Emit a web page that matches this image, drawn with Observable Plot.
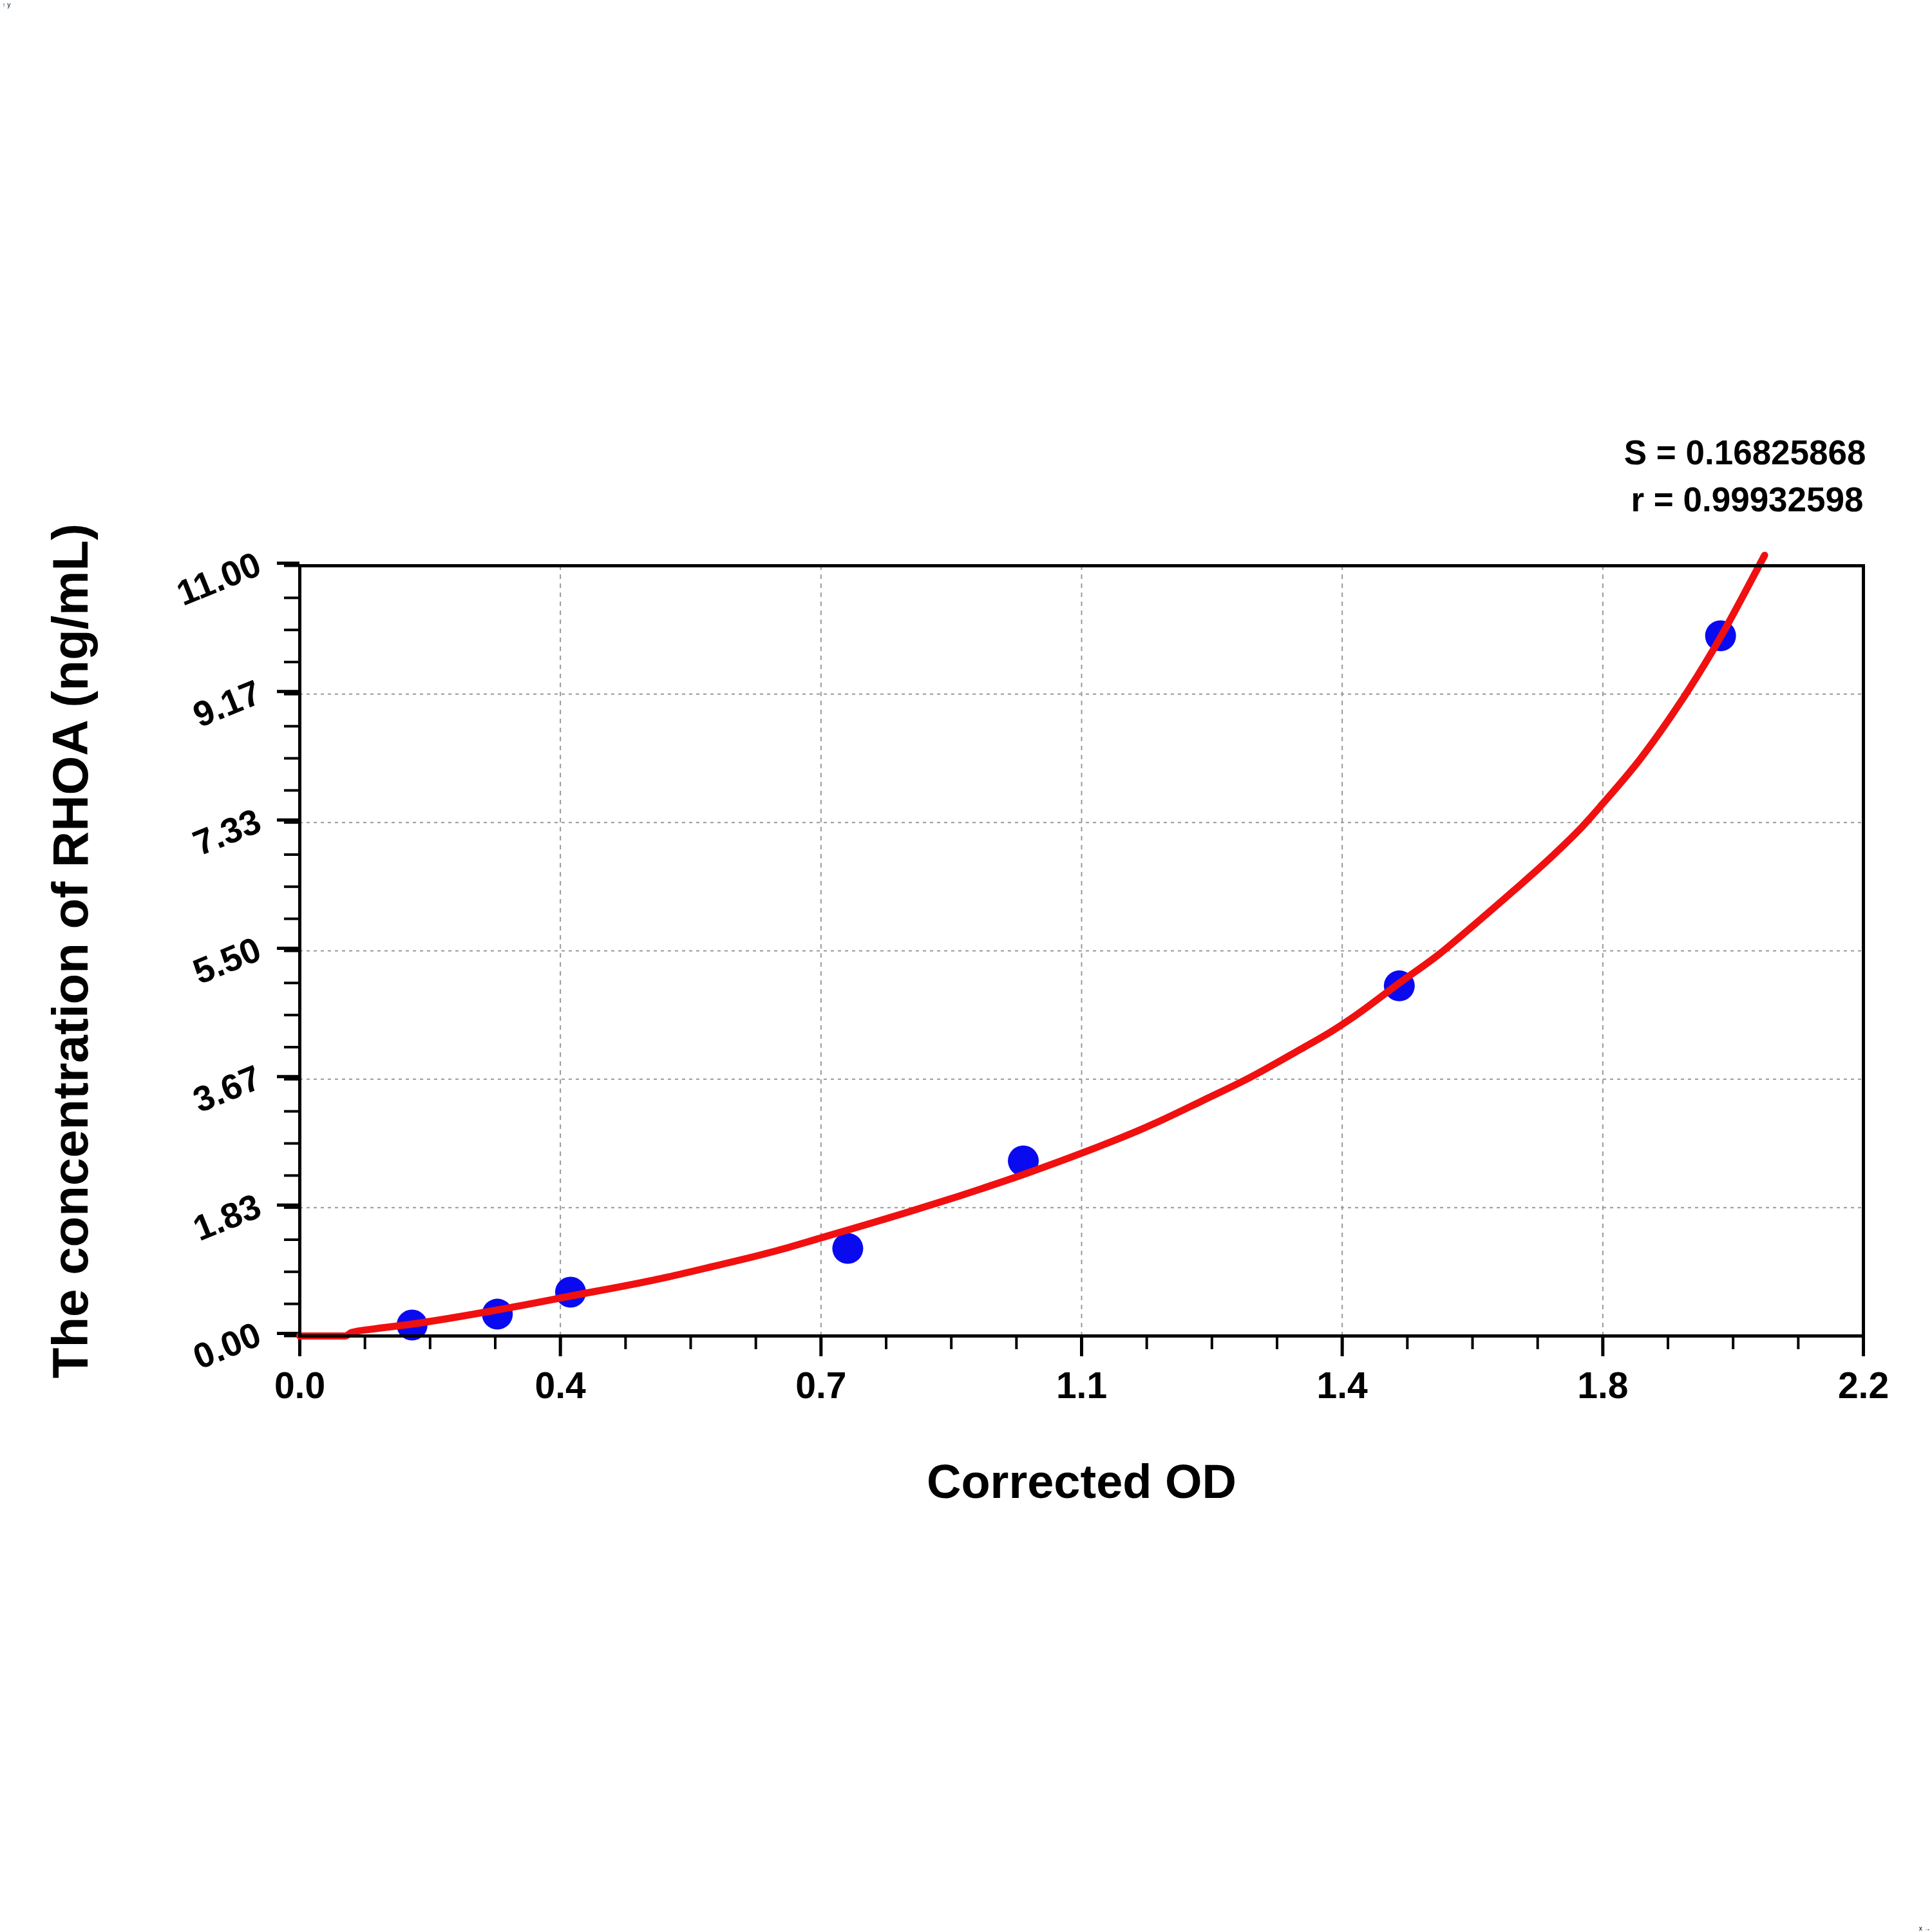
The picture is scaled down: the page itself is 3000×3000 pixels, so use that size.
<!DOCTYPE html>
<html>
<head>
<meta charset="utf-8">
<script src="https://cdn.jsdelivr.net/npm/d3@7"></script>
<script src="https://cdn.jsdelivr.net/npm/@observablehq/plot@0.6"></script>
<style>
  html, body { margin: 0; padding: 0; background: #fff; }
  #chart { width: 3000px; height: 3000px; }
</style>
</head>
<body>
<div id="chart"></div>
<script>
// Standard points (Corrected OD vs concentration)
const pointOD = [0.158, 0.278, 0.381, 0.771, 1.018, 1.547, 1.999];
const pointConc = [0.156, 0.312, 0.625, 1.25, 2.5, 5, 10];

// Fitted curve
const curveOD = [0, 0.064, 0.073, 0.104, 0.158, 0.277, 0.381, 0.517, 0.58, 0.668, 0.733, 0.856, 0.925, 1.022, 1.1, 1.2015, 1.27, 1.333, 1.409, 1.45, 1.483, 1.547, 1.604, 1.644, 1.708, 1.765, 1.805, 1.833, 1.886, 1.926, 1.966, 1.999, 2.027, 2.061];
const curveConc = [0, 0.0, 0.05, 0.10, 0.17, 0.37, 0.57, 0.84, 0.99, 1.21, 1.40, 1.77, 1.99, 2.32, 2.61, 3.03, 3.36, 3.67, 4.10, 4.34, 4.56, 5.04, 5.46, 5.80, 6.36, 6.88, 7.28, 7.60, 8.24, 8.80, 9.42, 9.98, 10.50, 11.15];

// Axis ticks
const xMajor = [0, 0.366667, 0.733333, 1.1, 1.466667, 1.833333, 2.2];
const xLabels = ["0.0", "0.4", "0.7", "1.1", "1.4", "1.8", "2.2"];
const yMajor = [0, 1.833333, 3.666667, 5.5, 7.333333, 9.166667, 11];
const yLabels = ["0.00", "1.83", "3.67", "5.50", "7.33", "9.17", "11.00"];
const xMinorCount = 24;
const yMinorCount = 24;

const statLines = ["S = 0.16825868", "r = 0.99932598"];
const xTitle = "Corrected OD";
const yTitle = "The concentration of RHOA (ng/mL)";

const points = pointOD.map((x, i) => ({x, y: pointConc[i]}));
const curve = curveOD.map((x, i) => ({x, y: curveConc[i]}));
const xMinor = d3.range(xMinorCount + 1).map(i => i * 2.2 / xMinorCount);
const yMinor = d3.range(yMinorCount + 1).map(i => i * 11 / yMinorCount);

const font = "'Liberation Sans', Arial, sans-serif";

const chart = Plot.plot({
  width: 3000,
  height: 3000,
  marginLeft: 465,
  marginRight: 107,
  marginTop: 878,
  marginBottom: 926,
  style: {fontFamily: font, background: "#fff", color: "#000"},
  x: {domain: [0, 2.2]},
  y: {domain: [0, 11]},
  marks: [
    Plot.gridX(xMajor.slice(1, -1), {stroke: "#999", strokeOpacity: 1, strokeWidth: 2, strokeDasharray: "7,7"}),
    Plot.gridY(yMajor.slice(1, -1), {stroke: "#999", strokeOpacity: 1, strokeWidth: 2, strokeDasharray: "5,6"}),
    Plot.axisX(xMinor, {tickSize: 21, strokeWidth: 4, text: null}),
    Plot.axisX(xMajor, {tickSize: 32, strokeWidth: 5, tickPadding: 24,
      tickFormat: d => xLabels[xMajor.indexOf(d)], fontSize: 57, fontWeight: "bold", fontFamily: font, fill: "#000", label: null}),
    Plot.axisY(yMinor, {tickSize: 24, strokeWidth: 4, text: null}),
    Plot.axisY(yMajor, {tickSize: 35, strokeWidth: 5, tickPadding: 28, tickRotate: -22, dy: -4,
      tickFormat: d => yLabels[yMajor.indexOf(d)], fontSize: 55, fontWeight: "bold", fontFamily: font, fill: "#000", label: null}),
    Plot.dot(points, {x: "x", y: "y", r: 24, fill: "#0a0af0", stroke: null}),
    Plot.line(curve, {x: "x", y: "y", stroke: "#f01010", strokeWidth: 11, curve: "monotone-x"}),
    Plot.frame({stroke: "#000", strokeWidth: 5}),
    Plot.text([statLines[0]], {frameAnchor: "top-right", dx: 4, dy: -174, text: d => d, textAnchor: "end", lineAnchor: "middle", fontSize: 53, fontWeight: "bold", fontFamily: font, fill: "#000"}),
    Plot.text([statLines[1]], {frameAnchor: "top-right", dx: 0, dy: -101, text: d => d, textAnchor: "end", lineAnchor: "middle", fontSize: 53, fontWeight: "bold", fontFamily: font, fill: "#000"}),
    Plot.text([xTitle], {frameAnchor: "bottom", dy: 228, text: d => d, textAnchor: "middle", lineAnchor: "middle", fontSize: 74, fontWeight: "bold", fontFamily: font, fill: "#000"}),
    Plot.text([yTitle], {frameAnchor: "left", dx: -354, rotate: -90, text: d => d, textAnchor: "middle", lineAnchor: "middle", fontSize: 78, fontWeight: "bold", fontFamily: font, fill: "#000"})
  ]
});

document.getElementById("chart").appendChild(chart);
</script>
</body>
</html>
